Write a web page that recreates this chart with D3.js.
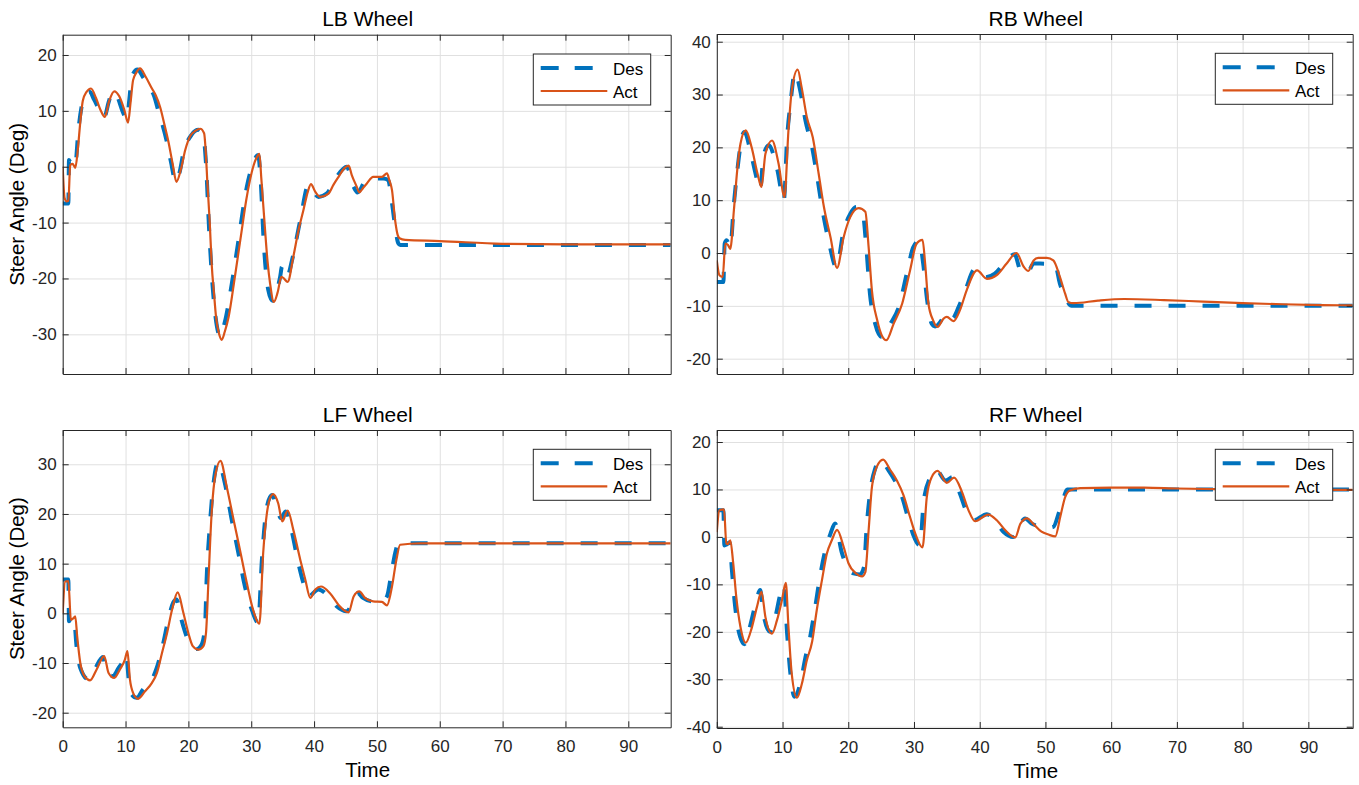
<!DOCTYPE html>
<html>
<head>
<meta charset="utf-8">
<script src="https://cdn.jsdelivr.net/npm/d3@7"></script>
<style>
html,body{margin:0;padding:0;background:#fff;}
svg{display:block;font-family:"Liberation Sans",Arial,Helvetica,sans-serif;font-weight:normal;}
</style>
</head>
<body>
<svg id="chart" width="1359" height="785"></svg>
<script>
// ---------------- DATA ----------------
const panelTitles = ["LB Wheel", "RB Wheel", "LF Wheel", "RF Wheel"];
const seriesNames = ["Des", "Act"];
const xLabel = "Time";
const yLabel = "Steer Angle (Deg)";
const xTicks = [0, 10, 20, 30, 40, 50, 60, 70, 80, 90];
const xLimits = [0, 96.75];

const lbYTicks = [-30, -20, -10, 0, 10, 20];
const rbYTicks = [-20, -10, 0, 10, 20, 30, 40];
const lfYTicks = [-20, -10, 0, 10, 20, 30];
const rfYTicks = [-40, -30, -20, -10, 0, 10, 20];
const lbYLimits = [-37.1, 23.63];
const rbYLimits = [-22.9, 41.46];
const lfYLimits = [-22.94, 36.9];
const rfYLimits = [-40.27, 22.53];

// [time, angle] pairs
const lbDes = [[0,-6.6],[0.9,-6.6],[1.0,1.2],[1.3,0.5],[1.8,0],[2.0,0.2],[2.5,6.6],[3.0,10.7],[3.8,13.2],[4.3,13.4],[5.0,12],[5.8,10.2],[6.6,8.8],[7.3,11.5],[7.9,13.4],[8.7,12.5],[9.5,10],[10.2,8.5],[10.6,12],[11.0,16.1],[11.9,17.4],[12.8,16],[13.9,14],[14.5,12.8],[15.2,10.1],[16.5,4.8],[17.2,1],[18.0,-2.7],[18.6,-1],[19.2,2.4],[20.5,5.7],[21.6,6.6],[22.4,5.4],[22.8,0.6],[23.3,-11.3],[23.9,-22],[24.8,-29.9],[25.0,-30.4],[25.8,-27.8],[26.9,-21],[27.9,-13.7],[29.3,-3.6],[30.3,0.6],[31.1,2.1],[31.5,-2.4],[32.0,-13.7],[32.7,-22],[33.4,-24],[34.6,-19.7],[34.9,-17.9],[35.7,-19.7],[36.5,-16.7],[37.8,-9.6],[39.1,-3.3],[40.7,-5.4],[42.0,-4.8],[43.6,-1.8],[45.2,0],[46.3,-3.6],[46.9,-4.6],[48.1,-2.7],[49.4,-2.1],[51.0,-2.1],[51.8,-2.4],[52.4,-6.5],[52.9,-10.7],[53.4,-13.7],[53.7,-14],[96.75,-14]];
const lbAct = [[0,0],[0.3,-5.6],[0.6,-6.2],[0.9,-6.1],[1.2,0.3],[1.6,0.5],[2.0,-0.2],[2.4,3],[2.8,8],[3.2,11.8],[3.8,13.4],[4.5,14],[5.3,12.3],[6.0,10.2],[6.7,8.9],[7.4,11.8],[8.2,13.5],[9.0,12.6],[9.8,10.2],[10.4,7.9],[10.8,11.5],[11.2,15.5],[11.7,16.8],[12.3,17.6],[13.2,16.1],[14.2,14],[14.8,12.8],[15.5,10.7],[16.2,7.5],[16.8,4.6],[17.5,0.5],[18.1,-2.7],[18.8,-0.5],[19.5,3],[20.3,5.5],[21.1,6.4],[21.9,6.8],[22.5,6],[22.8,2],[23.0,-2.4],[23.4,-10],[23.7,-17.3],[24.1,-23],[24.4,-26.9],[24.9,-30],[25.3,-31],[25.8,-29.5],[26.4,-26.9],[27.4,-19.7],[28.5,-11.3],[29.2,-6],[29.8,-2.4],[30.4,0.3],[30.8,1.5],[31.3,2.3],[31.6,-2],[32.2,-11.3],[32.6,-17],[33.0,-20.9],[33.6,-24.2],[34.2,-22.5],[34.8,-19.7],[35.1,-19.9],[35.8,-20.6],[36.7,-16.1],[37.5,-11.5],[38.3,-7.8],[39.0,-4.5],[39.5,-3.1],[40.2,-4.5],[41.0,-5.4],[42.3,-4.8],[43.1,-3.2],[43.9,-1.8],[44.8,-0.3],[45.5,0.2],[46.0,-1.5],[46.8,-3.6],[47.2,-4.6],[47.8,-3.8],[48.4,-3],[49.4,-1.8],[50.8,-1.8],[51.6,-1.2],[52.0,-2.5],[52.4,-4.2],[52.9,-9.6],[53.3,-12.2],[53.6,-12.8],[54.5,-13.1],[60,-13.3],[70,-13.8],[80,-13.9],[96.75,-13.9]];

const rbDes = [[0,-5.5],[1.0,-5.5],[1.2,1.8],[1.5,2.4],[2.05,1.1],[2.6,9.3],[3.3,17.5],[3.8,21.9],[4.2,22.9],[5.1,19.4],[5.9,15],[6.6,12],[7.1,18.3],[7.9,20.4],[9.2,15.8],[10.2,10],[10.7,21.9],[11.2,28.2],[11.9,34.2],[12.7,30.7],[13.5,25],[14.5,20],[15.2,15],[16.0,8.7],[17.0,2.4],[18.2,-2.7],[19.3,4.2],[20.3,7.4],[21.2,8.7],[22.2,7.6],[22.7,1.8],[23.3,-7.7],[24.1,-13.4],[25.1,-15.9],[26.4,-13.4],[27.7,-10.2],[28.9,-3.9],[29.9,1.1],[30.8,2.3],[31.4,-2],[32.0,-8.9],[32.7,-13.4],[33.2,-13.9],[34.5,-12.1],[34.8,-11.5],[35.8,-12.4],[36.8,-10.2],[37.8,-7.1],[39.3,-3],[40.8,-4.6],[42.3,-3.9],[43.9,-1.7],[45.3,-0.25],[46.2,-3.3],[47.2,-3.9],[48.2,-2],[49.2,-2],[50.7,-2.1],[51.5,-2.3],[52.2,-5.8],[53.0,-8.3],[53.8,-9.9],[54.2,-10],[96.75,-10]];
const rbAct = [[0,-1.4],[0.4,-4.2],[0.9,-4.5],[1.3,1.8],[1.7,1.5],[2.05,0.8],[2.6,8.1],[3.1,15.6],[3.6,20.7],[4.4,23.2],[5.3,20],[6.2,15],[6.8,12.5],[7.4,18.8],[8.4,21.3],[9.4,16.9],[10.3,10.6],[10.9,23.2],[11.4,30.7],[12.3,34.7],[12.9,31.4],[13.7,25.7],[14.6,21.9],[15.5,15],[16.3,8.7],[17.3,3],[18.3,-2.8],[19.3,3],[20.3,6.8],[21.6,8.5],[22.6,7.8],[23.1,1.1],[23.6,-7.1],[24.4,-12.7],[25.1,-15.6],[25.8,-16.5],[26.9,-13.4],[28.2,-9.6],[29.4,-3.3],[30.4,1.8],[31.3,2.5],[31.7,-2],[32.2,-9.6],[32.9,-12.7],[33.6,-14],[34.5,-12.4],[35.0,-12.1],[36.0,-12.9],[37.0,-10.8],[38.0,-7.1],[39.6,-3.3],[41.1,-4.9],[42.6,-4.2],[44.1,-2],[45.6,0],[46.7,-2.6],[47.4,-3.4],[48.2,-1.4],[48.9,-0.9],[50.2,-0.9],[51.2,-1.4],[52.2,-4.5],[53.0,-7.7],[53.5,-9.3],[54.3,-9.5],[58,-9],[62,-8.7],[68,-8.9],[74,-9.2],[80,-9.5],[86,-9.7],[92,-9.85],[96.75,-9.9]];

const lfDes = [[0,6.8],[0.9,6.8],[1.0,-1.6],[1.4,-0.6],[1.8,-1],[2.2,-6.6],[2.8,-11],[4.1,-13.3],[5.1,-11.3],[6.4,-8.8],[7.0,-12.1],[8.0,-12.6],[8.9,-11],[9.7,-9.4],[10.1,-8.3],[10.5,-13.3],[10.8,-16],[11.8,-17],[12.8,-15.3],[13.9,-14],[14.96,-11],[16.0,-6],[16.8,-1.3],[17.6,2.2],[18.1,2.8],[18.9,-1.3],[19.7,-4.6],[20.5,-6.6],[21.3,-7.2],[22.1,-6.3],[22.65,-2.6],[22.9,6.8],[23.4,17.5],[24.0,26.2],[24.8,30.5],[25.8,26.2],[26.9,18.8],[27.96,12.1],[29.0,5.4],[30.1,0.7],[31.1,-1.9],[31.7,10.8],[32.5,21.5],[33.3,23.8],[34.1,21.1],[34.7,19.2],[35.5,20.5],[36.4,16.8],[37.5,10.1],[38.3,6.1],[39.1,3.4],[40.7,4.8],[42.3,3.4],[43.6,1.4],[45.2,0.4],[46.9,4.1],[47.8,3.1],[49.2,2.4],[50.8,2.4],[51.6,3.4],[52.4,8.8],[52.9,12.1],[53.4,14.1],[96.75,14.1]];
const lfAct = [[0,0],[0.4,6.4],[0.9,6.5],[1.3,-1.3],[1.7,-1],[2.0,-0.6],[2.3,-4.6],[2.8,-10],[3.5,-12.7],[4.35,-13.5],[5.4,-11.3],[6.6,-8.6],[7.3,-12],[8.2,-13],[9.1,-11.3],[9.9,-9.3],[10.3,-7.6],[10.7,-13.3],[11.2,-16],[12.0,-17.2],[13.1,-15.7],[14.2,-14],[15.0,-12],[15.8,-8],[16.6,-4],[17.4,0.7],[18.3,4.2],[19.2,0.1],[20.0,-4],[20.7,-6.6],[21.6,-7.3],[22.4,-6.6],[22.8,-4],[23.2,6.8],[23.7,20.2],[24.3,27.9],[25.1,30.7],[26.1,25.5],[27.2,18.8],[28.2,12.8],[29.3,6.1],[30.3,0.7],[31.3,-2.1],[31.9,12.1],[32.5,20.2],[33.0,23.2],[33.5,24],[34.3,22.1],[34.95,18.5],[35.8,20.7],[36.7,16.8],[37.8,10.8],[38.6,6.8],[39.4,3.1],[40.2,4.8],[41.1,5.4],[42.5,4.1],[43.9,1.7],[45.5,0.2],[46.3,3.4],[47.2,4.4],[48.1,3.1],[49.4,2.4],[50.8,2.3],[51.6,1.6],[52.4,5.4],[53.1,10.8],[53.7,13.8],[56.9,14.1],[96.75,14.1]];

const rfDes = [[0,5.6],[1.0,5.6],[1.15,-1.8],[1.5,-1.6],[1.95,-1.1],[2.3,-7],[2.8,-14.8],[3.3,-19.7],[4.2,-22.6],[5.1,-18.6],[5.9,-14.1],[6.6,-11.2],[7.1,-16.2],[8.1,-20],[8.9,-16.9],[9.7,-11.9],[10.2,-10.2],[10.7,-20.4],[11.2,-28.8],[11.8,-33.7],[12.7,-30.9],[13.5,-25.3],[14.2,-21.1],[14.97,-14.8],[15.7,-8.4],[16.5,-2.8],[17.3,0.7],[18.0,2.8],[19.0,-3.2],[19.8,-6.3],[20.8,-7.7],[21.8,-7.9],[22.4,-6.3],[22.8,2.1],[23.3,9.1],[24.1,14.4],[24.9,16.2],[26.1,14.1],[27.2,11.6],[28.2,8.4],[29.2,3.5],[29.9,0.4],[30.9,-1.8],[31.5,7.7],[32.4,12.3],[33.4,14.1],[34.8,11.9],[35.9,12.6],[37.0,9.1],[38.0,5.3],[39.1,3.5],[41.1,4.8],[42.4,3.2],[43.6,1.1],[45.1,0],[46.9,3.9],[47.9,2.8],[49.2,2.2],[50.2,1.9],[51.2,2.1],[52.0,4.9],[52.8,8.4],[53.3,10],[96.75,10]];
const rfAct = [[0,1],[0.4,5.6],[1.1,5.8],[1.45,-1.4],[1.7,-1.5],[2.05,-0.7],[2.5,-5.6],[2.96,-12.6],[3.6,-19],[4.4,-22.3],[5.35,-19],[6.1,-14.8],[6.8,-11.6],[7.4,-16.9],[8.4,-20.4],[9.15,-17.6],[9.9,-13.4],[10.5,-9.7],[10.9,-18.9],[11.4,-28.8],[12.2,-33.9],[12.95,-30.9],[13.7,-26],[14.5,-22.1],[15.2,-15.5],[16.0,-9.1],[16.75,-3.5],[17.5,-0.7],[18.3,1.5],[19.3,-2.1],[20.05,-5.6],[21.1,-7.6],[22.1,-8.3],[22.6,-7.4],[23.1,1.4],[23.6,10.5],[24.35,14.8],[25.3,16.3],[26.4,14.1],[27.4,11.9],[28.4,8.8],[29.4,4.2],[30.2,0.7],[31.3,-2.2],[31.95,8.4],[32.7,12.6],[33.6,13.9],[35.0,11.4],[36.1,12.5],[37.3,9.5],[38.3,5.6],[39.3,3.3],[41.3,4.7],[42.6,3.5],[43.9,1.4],[45.4,-0.1],[46.2,2.8],[47.2,3.9],[48.2,2.7],[49.4,1.1],[50.45,0.5],[51.5,0.1],[52.25,4.2],[53.0,8.4],[53.7,9.8],[55.3,10.3],[60,10.4],[65,10.4],[70,10.2],[78,10.0],[85,9.9],[96.75,9.9]];

// ---------------- LAYOUT / STYLE ----------------
const panels = [
  {title: panelTitles[0], des: lbDes, act: lbAct, yTicks: lbYTicks, yDom: lbYLimits, l: 62.7, r: 670.7, t: 34.7, b: 374, yLab: true, xLab: false},
  {title: panelTitles[1], des: rbDes, act: rbAct, yTicks: rbYTicks, yDom: rbYLimits, l: 716.8, r: 1352.7, t: 34, b: 374, yLab: false, xLab: false},
  {title: panelTitles[2], des: lfDes, act: lfAct, yTicks: lfYTicks, yDom: lfYLimits, l: 62.7, r: 670.7, t: 430, b: 727.3, yLab: true, xLab: true},
  {title: panelTitles[3], des: rfDes, act: rfAct, yTicks: rfYTicks, yDom: rfYLimits, l: 716.8, r: 1352.7, t: 430, b: 728, yLab: false, xLab: true}
];
const desColor = "#0072BD", actColor = "#D95319", axColor = "#262626", gridColor = "#e0e0e0";
const FONT = '"Liberation Sans",Arial,Helvetica,sans-serif';
const fmt = d => String(d);

const svg = d3.select("#chart");

panels.forEach((p, i) => {
  const w = p.r - p.l, h = p.b - p.t;
  const x = d3.scaleLinear().domain(xLimits).range([0, w]);
  const y = d3.scaleLinear().domain(p.yDom).range([h, 0]);
  const g = svg.append("g").attr("transform", `translate(${p.l},${p.t})`);

  g.append("rect").attr("width", w).attr("height", h).attr("fill", "#fff");

  // grid
  const gx = g.append("g").attr("transform", `translate(0,${h})`)
    .call(d3.axisBottom(x).tickValues(xTicks).tickSize(-h).tickFormat(""));
  const gy = g.append("g")
    .call(d3.axisLeft(y).tickValues(p.yTicks).tickSize(-w).tickFormat(""));
  [gx, gy].forEach(a => {
    a.select(".domain").remove();
    a.selectAll("line").attr("stroke", gridColor).attr("stroke-width", 1);
  });

  const clipId = "clip" + i;
  g.append("clipPath").attr("id", clipId).append("rect").attr("width", w).attr("height", h);

  const line = d3.line().x(d => x(d[0])).y(d => y(d[1])).curve(d3.curveMonotoneX);
  const lg = g.append("g").attr("clip-path", `url(#${clipId})`);
  lg.append("path").datum(p.des).attr("d", line).attr("fill", "none")
    .attr("stroke", desColor).attr("stroke-width", 4).attr("stroke-dasharray", "17,17");
  lg.append("path").datum(p.act).attr("d", line).attr("fill", "none")
    .attr("stroke", actColor).attr("stroke-width", 2.2).attr("stroke-linejoin", "round");

  // axes (ticks inside, box)
  const styleAxis = a => {
    a.attr("font-family", FONT).attr("font-size", 17);
    a.select(".domain").attr("stroke", axColor).attr("stroke-width", 1);
    a.selectAll(".tick line").attr("stroke", axColor).attr("stroke-width", 1);
    a.selectAll("text").attr("fill", axColor).attr("font-size", 17)
      .attr("font-family", FONT).attr("font-weight", "normal");
  };
  const ab = g.append("g").attr("transform", `translate(0,${h})`)
    .call(d3.axisBottom(x).tickValues(xTicks).tickSizeInner(-6).tickSizeOuter(0)
      .tickPadding(12.5).tickFormat(p.xLab ? fmt : ""));
  styleAxis(ab);
  const at = g.append("g")
    .call(d3.axisTop(x).tickValues(xTicks).tickSizeInner(-6).tickSizeOuter(0).tickFormat(""));
  styleAxis(at);
  const al = g.append("g")
    .call(d3.axisLeft(y).tickValues(p.yTicks).tickSizeInner(-6).tickSizeOuter(0).tickPadding(6).tickFormat(fmt));
  styleAxis(al);
  const ar = g.append("g").attr("transform", `translate(${w},0)`)
    .call(d3.axisRight(y).tickValues(p.yTicks).tickSizeInner(-6).tickSizeOuter(0).tickFormat(""));
  styleAxis(ar);

  // title
  g.append("text").attr("x", w / 2 + 1).attr("y", -8.5).attr("text-anchor", "middle")
    .attr("font-family", FONT).attr("font-weight", "normal")
    .attr("font-size", 21).attr("fill", "#000").text(p.title);

  if (p.xLab) {
    g.append("text").attr("x", w / 2 + 1).attr("y", h + 49.5).attr("text-anchor", "middle")
      .attr("font-family", FONT).attr("font-weight", "normal")
      .attr("font-size", 20.5).attr("fill", "#000").text(xLabel);
  }
  if (p.yLab) {
    g.append("text").attr("transform", `translate(${-39},${h / 2}) rotate(-90)`)
      .attr("font-family", FONT).attr("font-weight", "normal")
      .attr("text-anchor", "middle").attr("font-size", 20.5).attr("fill", "#000").text(yLabel);
  }

  // legend
  const legW = 117.4, legH = 51;
  const leg = g.append("g").attr("transform", `translate(${w - 20 - legW},${19.3})`);
  leg.append("rect").attr("width", legW).attr("height", legH).attr("fill", "#fff")
    .attr("stroke", axColor).attr("stroke-width", 1);
  const items = [{name: seriesNames[0], c: desColor, sw: 4, da: "18,16"}, {name: seriesNames[1], c: actColor, sw: 2.2, da: null}];
  items.forEach((it, k) => {
    const yy = 14 + k * 23;
    const ln = leg.append("line").attr("x1", 7.4).attr("x2", 74).attr("y1", yy).attr("y2", yy)
      .attr("stroke", it.c).attr("stroke-width", it.sw);
    if (it.da) ln.attr("stroke-dasharray", it.da);
    leg.append("text").attr("x", 79.7).attr("y", yy + 6.5).attr("font-size", 17)
      .attr("font-family", FONT).attr("font-weight", "normal")
      .attr("fill", "#000").text(it.name);
  });
});
</script>
</body>
</html>
